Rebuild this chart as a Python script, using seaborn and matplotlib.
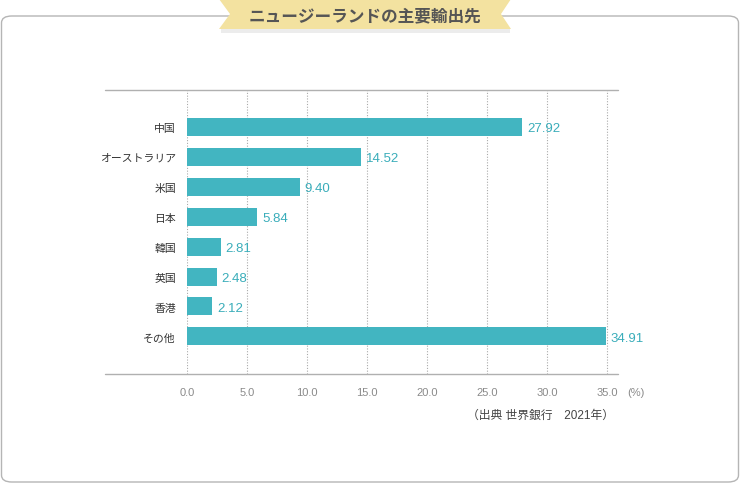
import matplotlib
matplotlib.use("Agg")
import matplotlib.pyplot as plt
from matplotlib.patches import Polygon, FancyBboxPatch
from matplotlib.lines import Line2D
import seaborn as sns

# data
countries = ["中国", "オーストラリア", "米国", "日本", "韓国", "英国", "香港", "その他"]
shares = [27.92, 14.52, 9.40, 5.84, 2.81, 2.48, 2.12, 34.91]
xticks = [0, 5, 10, 15, 20, 25, 30, 35]

W, H = 740, 485
bar_col = "#42b5c1"
lab_col = "#3aadba"
num_font = ["Liberation Sans", "Noto Sans CJK JP"]

sns.set_style("white")
plt.rcParams["font.family"] = ["Noto Sans CJK JP", "DejaVu Sans"]


def px(x, y):
    return (x / W, 1 - y / H)


fig = plt.figure(figsize=(W / 100, H / 100), dpi=100)

# card outline
card = FancyBboxPatch(px(1.5, 483), 737 / W, 466 / H,
                      boxstyle="round,pad=0,rounding_size=0.014",
                      transform=fig.transFigure, fill=False,
                      edgecolor="#b5b5b5", linewidth=1.0)
fig.add_artist(card)

# title ribbon
shadow = Polygon([px(221, 30), px(510, 30), px(510, 34), px(221, 34)],
                 closed=True, transform=fig.transFigure,
                 facecolor="#ececec", edgecolor="none")
fig.add_artist(shadow)
ribbon = Polygon([px(219, 0), px(511, 0), px(501, 15), px(511, 30),
                  px(219, 30), px(230, 15)],
                 closed=True, transform=fig.transFigure,
                 facecolor="#f3e2a0", edgecolor="none")
fig.add_artist(ribbon)
fig.text(*px(365, 16), "ニュージーランドの主要輸出先", ha="center", va="center",
         fontsize=12, fontweight="bold", color="#555555")

# axes: x=0 at 187px, right edge at 618px
left, right, top, bottom = 187, 618, 91, 375
ax = fig.add_axes([left / W, 1 - bottom / H, (right - left) / W, (bottom - top) / H])

sns.barplot(x=shares, y=countries, orient="h", color=bar_col, width=0.6,
            saturation=1, linewidth=0, ax=ax, zorder=3)

ax.set_xlim(0, (right - left) / 12)
ax.set_ylim(8.26, -1.24)
ax.set_xticks(xticks)
ax.set_xticklabels([f"{v:.1f}" for v in xticks], family=num_font)
ax.tick_params(axis="x", length=0, pad=9.5, labelsize=8, labelcolor="#8a8a8a")
ax.tick_params(axis="y", length=0, pad=8, labelsize=7.8, labelcolor="#333333")
ax.set_xlabel("")
ax.set_ylabel("")
ax.xaxis.grid(True, linestyle=(0, (1, 1.5)), color="#aaaaaa", linewidth=0.8, zorder=0)
ax.yaxis.grid(False)
for s in ["left", "right", "top", "bottom"]:
    ax.spines[s].set_visible(False)

# horizontal rules extending left of the axes
for yy in (top, bottom):
    fig.add_artist(Line2D([105 / W, right / W], [1 - yy / H, 1 - yy / H],
                          transform=fig.transFigure, color="#b0b0b0", linewidth=1.0))

# value labels
for i, v in enumerate(shares):
    ax.annotate(f"{v:.2f}", xy=(v, i), xytext=(3.5, -1), textcoords="offset points",
                va="center", ha="left", fontsize=9.5, color=lab_col, family=num_font)

fig.text(*px(627, 393), "(%)", ha="left", va="center", fontsize=8,
         color="#8a8a8a", family=num_font)
fig.text(*px(614, 416), "（出典 世界銀行　2021年）", ha="right", va="center",
         fontsize=8.5, color="#444444", family=num_font)

fig.savefig("out.png", dpi=100)
